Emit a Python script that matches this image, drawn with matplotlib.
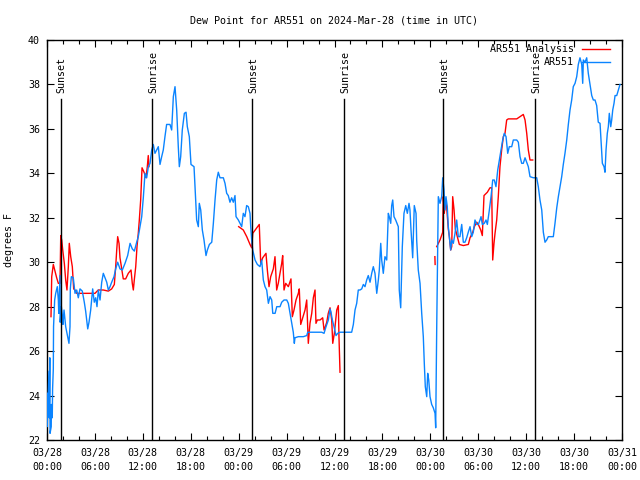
import numpy as np
import matplotlib
matplotlib.use("Agg")
import matplotlib.pyplot as plt
from matplotlib.ticker import FixedLocator, MultipleLocator

TITLE = "Dew Point for AR551 on 2024-Mar-28 (time in UTC)"
YLABEL = "degrees F"

# hours since 2024-03-28 00:00 UTC
blue_hours = [0.0, 0.02, 0.15, 0.25, 0.28, 0.35, 0.38, 0.53, 0.55, 0.66, 0.70, 0.79, 0.82, 0.96, 1.09, 1.29,
              1.42, 1.47, 1.63, 1.65, 1.80, 1.92, 2.00, 2.13, 2.34, 2.50, 2.75, 2.88, 2.92, 3.05, 3.29, 3.51,
              3.72, 3.92, 4.13, 4.42, 4.67, 4.84, 5.10, 5.26, 5.47, 5.72, 5.92, 6.10, 6.26, 6.43, 6.64, 6.85,
              7.05, 7.26, 7.48, 7.68, 7.89, 8.10, 8.39, 8.60, 8.85, 9.14, 9.43, 9.77, 10.10, 10.40, 10.68, 10.94,
              11.23, 11.43, 11.65, 11.86, 12.06, 12.27, 12.48, 12.69, 12.90, 13.11, 13.31, 13.52, 13.73, 13.94,
              14.15, 14.36, 14.56, 14.77, 14.98, 15.40, 15.61, 15.82, 16.03, 16.24, 16.44, 16.57, 16.74, 16.94,
              17.20, 17.41, 17.57, 17.82, 18.03, 18.41, 18.53, 18.74, 18.95, 19.07, 19.25, 19.45, 19.66, 19.91,
              20.08, 20.33, 20.63, 20.83, 21.04, 21.25, 21.45, 21.66, 22.08, 22.29, 22.50, 22.70, 22.91, 23.12,
              23.33, 23.54, 23.67, 23.96, 24.17, 24.38, 24.58, 24.79, 25.00, 25.21, 25.42, 25.51, 25.63, 25.76,
              26.05, 26.34, 26.67, 26.88, 27.09, 27.30, 27.51, 27.72, 27.93, 28.14, 28.27, 28.56, 28.77, 29.18,
              29.39, 29.68, 30.02, 30.22, 30.43, 30.64, 30.84, 30.97, 31.05, 31.47, 32.10, 32.52, 32.65, 33.15,
              33.78, 34.40, 34.69, 34.94, 35.23, 35.44, 35.56, 35.73, 35.94, 36.19, 36.40, 36.69, 37.11, 38.15,
              38.36, 38.57, 38.78, 38.98, 39.19, 39.41, 39.61, 39.82, 40.03, 40.23, 40.45, 40.66, 40.86, 41.07,
              41.29, 41.49, 41.61, 41.79, 41.91, 42.11, 42.32, 42.54, 42.74, 42.86, 43.04, 43.16, 43.29, 43.45,
              43.66, 43.99, 44.11, 44.29, 44.49, 44.70, 44.92, 45.12, 45.33, 45.45, 45.58, 45.79, 45.99, 46.21,
              46.29, 46.49, 46.71, 46.92, 47.12, 47.25, 47.37, 47.55, 47.67, 47.80, 47.96, 48.17, 48.37, 48.59,
              48.67, 48.80, 49.00, 49.21, 49.42, 49.55, 49.71, 49.84, 49.96, 50.12, 50.25, 50.38, 50.55, 50.68,
              50.88, 51.09, 51.30, 51.50, 51.71, 51.93, 52.13, 52.34, 52.55, 52.75, 52.97, 53.18, 53.38, 53.59,
              53.81, 54.01, 54.22, 54.35, 54.51, 54.76, 54.97, 55.14, 55.39, 55.60, 55.81, 56.01, 56.22, 56.44,
              56.64, 56.85, 57.06, 57.26, 57.48, 57.69, 57.89, 58.19, 58.39, 58.82, 59.02, 59.23, 59.44, 59.64,
              59.86, 60.07, 60.27, 60.48, 60.90, 61.32, 61.52, 61.73, 61.95, 62.15, 62.36, 62.57, 62.77, 63.40,
              63.61, 63.83, 64.03, 64.24, 64.45, 64.65, 64.86, 65.08, 65.28, 65.49, 65.70, 65.90, 66.12, 66.33,
              66.53, 66.74, 66.96, 67.08, 67.16, 67.37, 67.58, 67.78, 67.99, 68.21, 68.41, 68.62, 68.83, 69.03,
              69.25, 69.37, 69.54, 69.75, 69.87, 70.00, 70.16, 70.29, 70.41, 70.59, 70.71, 70.84, 71.00, 71.13,
              71.34, 71.54, 71.75]
blue_dew = [24.1, 22.6, 24.0, 25.1, 23.0, 25.7, 22.3, 22.6, 23.6, 23.0, 24.3, 25.2, 27.1, 28.3, 28.6, 28.9,
            28.3, 27.7, 29.4, 27.3, 28.0, 27.6, 27.2, 27.85, 27.1, 26.8, 26.35, 27.1, 28.8, 29.35, 29.3, 28.6,
            28.75, 28.4, 28.8, 28.7, 28.2, 27.8, 27.0, 27.3, 27.85, 28.8, 28.2, 28.4, 28.0, 28.75, 28.3, 29.1,
            29.5, 29.3, 29.1, 28.75, 28.9, 29.1, 29.35, 29.7, 30.0, 29.7, 29.65, 29.95, 30.3, 30.85, 30.6, 30.5,
            30.9, 31.15, 31.6, 32.05, 32.9, 34.0, 33.8, 34.3, 34.45, 35.05, 35.3, 34.9, 35.05, 35.2,
            34.4, 34.75, 35.05, 35.65, 36.2, 36.2, 35.95, 37.45, 37.9, 36.85, 35.2, 34.3, 34.75, 35.95,
            36.7, 36.75, 36.1, 35.65, 34.4, 34.3, 33.4, 31.9, 31.6, 32.65, 32.35, 31.45, 31.0, 30.3,
            30.55, 30.8, 30.9, 31.75, 32.8, 33.7, 34.05, 33.8, 33.8, 33.55, 33.1, 33.0, 32.7, 32.9,
            32.7, 33.0, 32.05, 31.9, 31.75, 31.6, 32.2, 32.05, 32.55, 32.5, 32.2, 31.6, 31.0, 30.55,
            30.1, 29.9, 29.8, 30.1, 29.2, 28.9, 28.75, 28.15, 28.45, 28.3, 27.7, 27.7, 28.0, 28.0,
            28.2, 28.3, 28.3, 28.15, 27.7, 27.25, 26.85, 26.35, 26.6, 26.65, 26.65, 26.7, 26.85, 26.85,
            26.85, 26.85, 26.8, 27.1, 27.4, 27.9, 27.75, 27.4, 27.1, 26.7, 26.8, 26.85, 26.85, 26.85,
            27.2, 27.85, 28.15, 28.75, 28.75, 28.8, 29.0, 28.9, 29.2, 29.4, 29.1, 29.5, 29.8, 29.5,
            28.6, 29.2, 29.65, 30.85, 30.1, 29.5, 30.25, 30.1, 32.2, 32.05, 31.75, 32.55, 32.8, 32.05,
            31.9, 31.6, 28.75, 27.95, 30.7, 32.2, 32.55, 32.2, 32.65, 32.35, 31.45, 30.2, 32.55, 32.2,
            31.0, 29.65, 29.05, 27.7, 26.65, 25.4, 24.4, 23.95, 25.0, 24.7, 23.95, 23.6, 23.45, 23.2,
            22.55, 27.1, 32.95, 32.65, 32.95, 33.8, 33.25, 32.35, 32.95, 32.5, 31.6, 31.15, 30.55, 31.0,
            30.85, 31.3, 31.9, 31.15, 31.15, 31.7, 30.9, 30.9, 31.1, 31.35, 31.6, 31.15, 31.35, 31.9,
            31.7, 31.7, 31.9, 32.05, 31.7, 31.75, 31.9, 31.7, 32.35, 32.95, 33.7, 33.7, 33.4, 34.15,
            34.6, 35.05, 35.5, 35.8, 35.65, 34.9, 35.2, 35.2, 35.5, 35.5, 35.4, 34.75, 34.45, 34.45,
            34.7, 34.5, 34.3, 33.85, 33.8, 33.8, 33.4, 32.8, 32.35, 31.35, 30.9, 31.0, 31.15, 31.15,
            31.75, 32.45, 32.95, 33.4, 33.85, 34.4, 34.9, 35.5, 36.2, 36.85, 37.3, 37.9, 38.05, 38.35,
            38.9, 39.2, 38.9, 38.05, 39.1, 39.0, 39.2, 38.5, 38.0, 37.5, 37.3, 37.3, 37.05, 36.3,
            36.25, 35.5, 34.45, 34.3, 34.05, 35.05, 35.8, 36.1, 36.7, 36.1, 36.4, 36.85, 37.15, 37.5,
            37.5, 37.75, 38.0]

nan = float("nan")
red_hours = [0.50, 0.59, 0.79, 1.00, 1.21, 1.42, 1.63, 1.72, 1.84, 1.97, 2.17, 2.34, 2.50, 2.67, 2.79, 2.97,
             3.17, 3.34, 3.51, 3.72, 4.35, 5.17, 6.01, 6.42, 7.05, 7.68, 8.10, 8.43, 8.60, 8.73, 8.85, 9.02,
             9.14, 9.35, 9.55, 9.85, 10.18, 10.52, 10.68, 10.81, 10.93, 11.11, 11.27, 11.43, 11.56, 11.73,
             11.90, 12.15, 12.40, 12.56, 12.68, 12.77, nan,
             24.00, 24.58, 25.01, 25.42, 25.63, 25.76, 26.58, 26.76, 27.01, 27.42, 27.59, 27.80, 28.01, 28.34,
             28.55, 28.76, 28.96, 29.18, 29.39, 29.51, 29.68, 29.89, 30.22, 30.55, 30.72, 30.93, 31.18, 31.47,
             31.59, 31.77, 32.02, 32.31, 32.52, 32.72, 32.93, 33.15, 33.35, 33.56, 33.68, 33.85, 34.19, 34.52,
             34.69, 34.85, 35.03, 35.22, 35.44, 35.65, 35.78, 35.98, 36.28, 36.48, 36.56, 36.69, nan,
             48.57, 48.60, nan,
             48.80, 49.21, 49.55, 49.62, 49.75, 49.88, 50.04, 50.25, 50.38, 50.55, 50.68, 50.80, 50.97, 51.13,
             51.38, 51.63, 52.13, 52.76, 52.97, 53.31, 53.51, 53.81, 54.01, 54.31, 54.51, 54.72, 55.14, 55.47,
             55.68, 55.81, 55.97, 56.10, 56.31, 56.51, 56.72, 56.93, 57.14, 57.35, 57.56, 57.76, 58.82, 59.23,
             59.64, 59.86, 60.07, 60.27, 60.48, 60.82]
red_dew = [27.55, 29.35, 29.9, 29.6, 29.3, 29.05, 29.05, 31.2, 31.0, 30.55, 29.95, 29.2, 28.75, 29.8, 30.85, 30.25,
           29.8, 28.8, 28.75, 28.6, 28.6, 28.6, 28.6, 28.75, 28.75, 28.7, 28.8, 29.0, 29.8, 30.55, 31.15, 30.85,
           30.2, 29.7, 29.25, 29.25, 29.5, 29.65, 29.05, 28.75, 29.2, 29.8, 30.7, 31.3, 31.9, 32.8,
           34.25, 34.05, 33.8, 34.3, 34.8, 34.3, nan,
           31.6, 31.45, 31.15, 30.8, 30.65, 31.3, 31.7, 29.95, 30.2, 30.4, 29.65, 28.9, 29.35, 29.7,
           30.25, 28.75, 29.05, 29.5, 29.95, 30.3, 28.75, 29.05, 28.9, 29.25, 27.55, 27.85, 28.3, 28.6,
           28.8, 27.2, 27.5, 27.85, 28.3, 26.35, 27.25, 27.7, 28.4, 28.75, 27.25, 27.4, 27.4, 27.5,
           26.95, 27.1, 27.3, 27.7, 27.95, 27.4, 26.35, 26.8, 27.85, 28.05, 26.65, 25.05, nan,
           30.25, 29.9, nan,
           30.7, 31.0, 31.35, 32.95, 32.2, 32.8, 32.5, 31.5, 31.15, 30.55, 30.7, 32.95, 32.35, 31.5,
           31.15, 30.8, 30.75, 30.8, 31.1, 31.35, 31.6, 31.8, 31.7, 31.45, 31.2, 33.0, 33.15, 33.35,
           33.35, 30.1, 30.85, 31.3, 31.9, 32.95, 34.3, 35.05, 35.65, 35.8, 36.4, 36.45, 36.45, 36.55,
           36.65, 36.4, 35.8, 35.05, 34.6, 34.6]

sun_hours = [1.72, 13.19, 25.71, 37.23, 49.63, 61.15]
sun_labels = ["Sunset", "Sunrise", "Sunset", "Sunrise", "Sunset", "Sunrise"]

tick_hours = [0, 6, 12, 18, 24, 30, 36, 42, 48, 54, 60, 66, 72]
tick_labels = ["03/28\n00:00", "03/28\n06:00", "03/28\n12:00", "03/28\n18:00",
               "03/29\n00:00", "03/29\n06:00", "03/29\n12:00", "03/29\n18:00",
               "03/30\n00:00", "03/30\n06:00", "03/30\n12:00", "03/30\n18:00",
               "03/31\n00:00"]

series_names = ["AR551 Analysis", "AR551"]
RED = "#ff0000"
BLUE = "#0a84ff"

plt.rcParams['font.family'] = ['DejaVu Sans Mono']
FS = 7.2

fig = plt.figure(figsize=(6.4, 4.8), dpi=100)
ax = fig.add_axes([47/640, 40/480, 575/640, 400/480])

ax.plot(red_hours, red_dew, color=RED, lw=1.0, zorder=3)
ax.plot(blue_hours, blue_dew, color=BLUE, lw=1.0, zorder=4)

ax.set_xlim(0, 72)
ax.set_ylim(22, 40)

lab_y = 37.6
for h, lab in zip(sun_hours, sun_labels):
    ax.plot([h, h], [22, 37.35], color="black", lw=1.0, zorder=5)
    ax.text(h + 0.1, lab_y, lab, rotation=90, ha="center", va="bottom", fontsize=FS, zorder=6)

ax.xaxis.set_major_locator(FixedLocator(tick_hours))
ax.set_xticklabels(tick_labels, fontsize=FS, linespacing=1.5)
ax.xaxis.set_minor_locator(MultipleLocator(2))
ax.yaxis.set_major_locator(MultipleLocator(2))
ax.tick_params(axis="both", which="major", direction="in", length=5, width=0.8,
               top=True, right=True, labelsize=FS, colors="black")
ax.tick_params(axis="x", which="minor", direction="in", length=3, width=0.8, top=True)
ax.tick_params(axis="x", which="major", pad=6)
ax.tick_params(axis="y", which="major", pad=5)
for sp in ax.spines.values():
    sp.set_linewidth(1.0)

ax.set_title(TITLE, fontsize=FS, pad=12)
ax.set_ylabel(YLABEL, fontsize=FS, labelpad=10)

# gnuplot-style legend: right-aligned text, line sample to its right
for i, (name, col) in enumerate(zip(series_names, [RED, BLUE])):
    yy = 0.977 - i * 0.033
    ax.text(0.9165, yy, name, transform=ax.transAxes, ha="right", va="center", fontsize=FS, zorder=7)
    ax.plot([0.930, 0.979], [yy, yy], transform=ax.transAxes, color=col, lw=1.0, zorder=7)

fig.savefig("out.png", dpi=100)
